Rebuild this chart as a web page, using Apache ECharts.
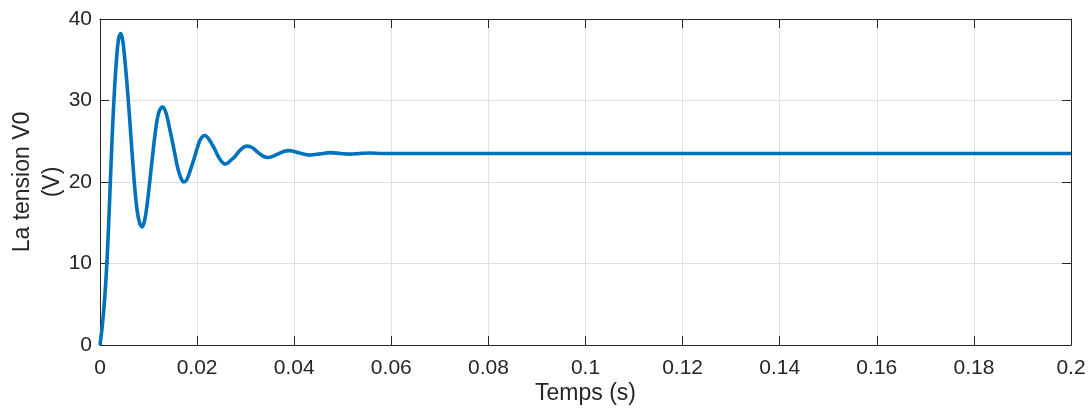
<!DOCTYPE html>
<html>
<head>
<meta charset="utf-8">
<script src="https://cdn.jsdelivr.net/npm/echarts@6/dist/echarts.min.js"></script>
<style>
html,body{margin:0;padding:0;background:#fff;}
#c{width:1092px;height:413px;}
</style>
</head>
<body>
<div id="c"></div>
<script>
// Time (s) and voltage (V)
const timeValues = [0, 0.0005, 0.0010, 0.0015, 0.0020, 0.0025, 0.0030, 0.0035, 0.0039, 0.00427,
  0.0047, 0.0052, 0.0057, 0.0062, 0.0067, 0.0072, 0.0077, 0.0082, 0.0087,
  0.0092, 0.0097, 0.0102, 0.0107, 0.0112, 0.0117, 0.0122, 0.0129,
  0.0134, 0.0139, 0.0144, 0.0149, 0.0154, 0.0159, 0.0164, 0.0169, 0.0173,
  0.0178, 0.0183, 0.0188, 0.0194, 0.0200, 0.0205, 0.0210, 0.0216,
  0.0221, 0.0226, 0.0231, 0.0237, 0.0243, 0.0248, 0.0254, 0.0259,
  0.0265, 0.0270, 0.0276, 0.0281, 0.0287, 0.0292, 0.0298, 0.0303,
  0.0314, 0.0324, 0.0335, 0.0345, 0.0356, 0.0367, 0.0378, 0.0390,
  0.0411, 0.0432, 0.0453, 0.0474, 0.0495, 0.0515, 0.0535, 0.0556, 0.0580, 0.060,
  0.08, 0.10, 0.12, 0.14, 0.16, 0.18, 0.20];
const voltageValues = [0, 2.5, 6, 11, 18, 25.5, 31.5, 35.8, 37.8, 38.2,
  37.3, 34.5, 31, 27, 22.8, 19, 16.3, 14.9, 14.5,
  15.3, 17.2, 19.8, 22.5, 25.2, 27.4, 28.7, 29.2,
  28.8, 27.8, 26.4, 25.0, 23.5, 22.0, 20.9, 20.2, 20.0,
  20.2, 20.9, 21.8, 22.9, 24.1, 25.0, 25.5, 25.7,
  25.5, 25.1, 24.6, 23.95, 23.2, 22.7, 22.3, 22.2,
  22.4, 22.7, 23.0, 23.35, 23.8, 24.1, 24.35, 24.4,
  24.2, 23.7, 23.2, 23.0, 23.15, 23.45, 23.75, 23.85,
  23.55, 23.3, 23.45, 23.6, 23.5, 23.42, 23.5, 23.55, 23.5, 23.5,
  23.5, 23.5, 23.5, 23.5, 23.5, 23.5, 23.5];
const xTicks = {min: 0, max: 0.2, interval: 0.02};
const yTicks = {min: 0, max: 40, interval: 10};
const xLabel = 'Temps (s)';
const yLabel = 'La tension V0\n(V)';

const axisColor = '#262626';
const gridColor = '#e0e0e0';
const fontFam = '"Liberation Sans", Arial, Helvetica, sans-serif';

const data = timeValues.map((t, i) => [t, voltageValues[i]]);

function baseX(pos, showLabels) {
  return {
    type: 'value', position: pos, min: xTicks.min, max: xTicks.max, interval: xTicks.interval,
    axisLine: {show: true, onZero: false, lineStyle: {color: axisColor, width: 1}},
    axisTick: {show: true, inside: true, length: 9, lineStyle: {color: axisColor}},
    axisLabel: {show: showLabels, color: axisColor, fontSize: 21, fontFamily: fontFam, margin: 13},
    splitLine: {show: showLabels, lineStyle: {color: gridColor, width: 1}}
  };
}
function baseY(pos, showLabels) {
  return {
    type: 'value', position: pos, min: yTicks.min, max: yTicks.max, interval: yTicks.interval,
    axisLine: {show: true, onZero: false, lineStyle: {color: axisColor, width: 1}},
    axisTick: {show: true, inside: true, length: 9, lineStyle: {color: axisColor}},
    axisLabel: {show: showLabels, color: axisColor, fontSize: 21, fontFamily: fontFam, margin: 8},
    splitLine: {show: showLabels, lineStyle: {color: gridColor, width: 1}}
  };
}

const xb = baseX('bottom', true);
xb.name = xLabel; xb.nameLocation = 'middle'; xb.nameGap = 37; xb.nameMoveOverlap = false;
xb.nameTextStyle = {color: axisColor, fontSize: 23, fontFamily: fontFam};
const yl = baseY('left', true);
yl.name = yLabel; yl.nameLocation = 'middle'; yl.nameGap = 32; yl.nameRotate = 90; yl.nameMoveOverlap = false;
yl.nameTextStyle = {color: axisColor, fontSize: 23, fontFamily: fontFam, lineHeight: 30, align: 'center'};

const chart = echarts.init(document.getElementById('c'), null, {renderer: 'canvas'});
chart.setOption({
  animation: false,
  backgroundColor: '#ffffff',
  grid: {left: 100, right: 21, top: 19, bottom: 68, containLabel: false, outerBoundsMode: 'none'},
  xAxis: [xb, baseX('top', false)],
  yAxis: [yl, baseY('right', false)],
  series: [{
    type: 'line', xAxisIndex: 0, yAxisIndex: 0, data: data,
    showSymbol: false, smooth: 0.3,
    lineStyle: {color: '#0072bd', width: 3.6},
    itemStyle: {color: '#0072bd'}
  }]
});
</script>
</body>
</html>
